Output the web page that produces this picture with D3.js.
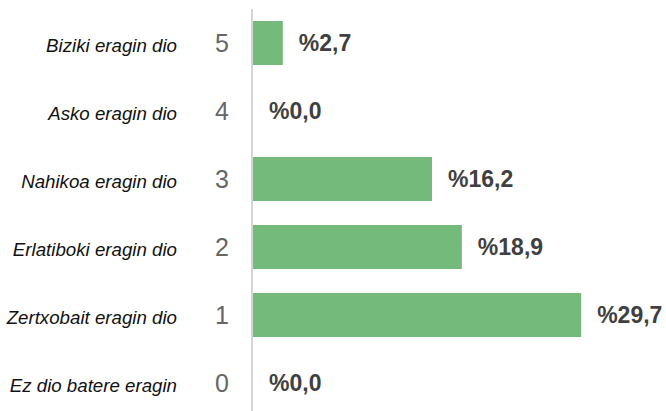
<!DOCTYPE html>
<html>
<head>
<meta charset="utf-8">
<script src="https://cdn.jsdelivr.net/npm/d3@7"></script>
<style>
  html, body { margin: 0; padding: 0; background: #fff; }
  svg { display: block; }
</style>
</head>
<body>
<svg id="chart" width="666" height="411"></svg>
<script>
// Scale points (top to bottom) and their descriptions
const levels = ["5", "4", "3", "2", "1", "0"];
const descriptions = [
  "Biziki eragin dio",
  "Asko eragin dio",
  "Nahikoa eragin dio",
  "Erlatiboki eragin dio",
  "Zertxobait eragin dio",
  "Ez dio batere eragin"
];
// Share of answers per level, in percent
const shares = [2.7, 0.0, 16.2, 18.9, 29.7, 0.0];
const shareLabels = ["%2,7", "%0,0", "%16,2", "%18,9", "%29,7", "%0,0"];

const svg = d3.select("#chart");

const axisX = 253;
const x = d3.scaleLinear().domain([0, 30]).range([axisX, 584.5]);
const y = d3.scaleBand()
  .domain(levels)
  .range([9, 417])
  .paddingInner(0.353)
  .paddingOuter(0.1765);

const rows = levels.map((lv, i) => ({
  level: lv, desc: descriptions[i], value: shares[i], label: shareLabels[i]
}));

// Bars
svg.append("g").selectAll("rect")
  .data(rows)
  .join("rect")
  .attr("x", axisX)
  .attr("y", d => y(d.level))
  .attr("width", d => x(d.value) - axisX)
  .attr("height", y.bandwidth())
  .attr("fill", "#73BA7B");

// Vertical category axis line
svg.append("line")
  .attr("x1", axisX - 1).attr("x2", axisX - 1)
  .attr("y1", 9).attr("y2", 411)
  .attr("stroke", "#d4d4d4")
  .attr("stroke-width", 2);

// Level numbers next to the axis
svg.append("g").selectAll("text")
  .data(rows)
  .join("text")
  .attr("x", 229)
  .attr("y", d => y(d.level) + y.bandwidth() / 2)
  .attr("dy", "0.35em")
  .attr("text-anchor", "end")
  .attr("font-family", "Liberation Sans, Arial, sans-serif")
  .attr("font-size", 25)
  .attr("fill", "#666666")
  .text(d => d.level);

// Descriptions in italics
svg.append("g").selectAll("text")
  .data(rows)
  .join("text")
  .attr("x", 177)
  .attr("y", d => y(d.level) + y.bandwidth() / 2 + 2)
  .attr("dy", "0.35em")
  .attr("text-anchor", "end")
  .attr("font-family", "Liberation Sans, Arial, sans-serif")
  .attr("font-style", "italic")
  .attr("font-size", 18.7)
  .attr("fill", "#111111")
  .text(d => d.desc);

// Value labels after each bar
svg.append("g").selectAll("text")
  .data(rows)
  .join("text")
  .attr("x", d => x(d.value) + 16)
  .attr("y", d => y(d.level) + y.bandwidth() / 2)
  .attr("dy", "0.35em")
  .attr("font-family", "Liberation Sans, Arial, sans-serif")
  .attr("font-weight", "bold")
  .attr("font-size", 23)
  .attr("fill", "#404040")
  .text(d => d.label);
</script>
</body>
</html>
